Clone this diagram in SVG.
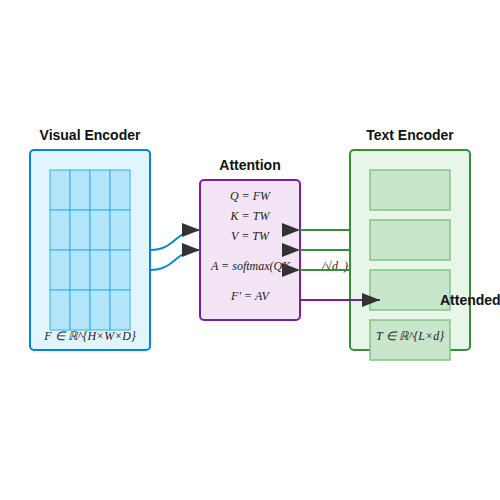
<svg xmlns="http://www.w3.org/2000/svg" width="500" height="500" viewBox="0 0 500 500">
<style>
.title{font-family:"Liberation Sans",Arial,sans-serif;font-weight:bold;font-size:14px;fill:#111;text-anchor:middle}
.math{font-family:"Liberation Serif","Times New Roman",serif;font-style:italic;font-size:12px;fill:#222;text-anchor:middle}
.cell{fill:#b3e5fc;stroke:#29b6f6;stroke-width:1}
.tok{fill:#c8e6c9;stroke:#81c784;stroke-width:1.5}
.conn{fill:none;stroke-width:2}
</style>
<defs>
<marker id="ah" markerUnits="userSpaceOnUse" markerWidth="18" markerHeight="14" viewBox="0 0 18 14" refX="18" refY="7" orient="auto">
<path d="M0,0 L18,7 L0,14 z" fill="#333"/>
</marker>
</defs>
<rect width="500" height="500" fill="#fff"/>
<g id="visual-encoder">
<text class="title" x="90" y="140">Visual Encoder</text>
<rect x="30" y="150" width="120" height="200" rx="4" fill="#e1f5fe" stroke="#0288d1" stroke-width="2"/>
<g>
<rect class="cell" x="50" y="170" width="20" height="40"/><rect class="cell" x="70" y="170" width="20" height="40"/><rect class="cell" x="90" y="170" width="20" height="40"/><rect class="cell" x="110" y="170" width="20" height="40"/>
<rect class="cell" x="50" y="210" width="20" height="40"/><rect class="cell" x="70" y="210" width="20" height="40"/><rect class="cell" x="90" y="210" width="20" height="40"/><rect class="cell" x="110" y="210" width="20" height="40"/>
<rect class="cell" x="50" y="250" width="20" height="40"/><rect class="cell" x="70" y="250" width="20" height="40"/><rect class="cell" x="90" y="250" width="20" height="40"/><rect class="cell" x="110" y="250" width="20" height="40"/>
<rect class="cell" x="50" y="290" width="20" height="40"/><rect class="cell" x="70" y="290" width="20" height="40"/><rect class="cell" x="90" y="290" width="20" height="40"/><rect class="cell" x="110" y="290" width="20" height="40"/>
</g>
<text class="math" x="90" y="340">F ∈ ℝ^{H×W×D}</text>
</g>
<g id="attention">
<text class="title" x="250" y="170">Attention</text>
<rect x="200" y="180" width="100" height="140" rx="4" fill="#f3e5f5" stroke="#7b1fa2" stroke-width="2"/>
<text class="math" x="250" y="200">Q = FW</text>
<text class="math" x="250" y="220">K = TW</text>
<text class="math" x="250" y="240">V = TW</text>
<text class="math" x="211" y="270" style="text-anchor:start">A = softmax(QK</text>
<text class="math" x="322" y="270" style="text-anchor:start">/√d</text>
<text class="math" x="344" y="270" style="text-anchor:start">)</text>
<text class="math" x="250" y="300">F′ = AV</text>
</g>
<g id="text-encoder">
<text class="title" x="410" y="140">Text Encoder</text>
<rect x="350" y="150" width="120" height="200" rx="4" fill="#e8f5e9" stroke="#388e3c" stroke-width="2"/>
<rect class="tok" x="370" y="170" width="80" height="40"/>
<rect class="tok" x="370" y="220" width="80" height="40"/>
<rect class="tok" x="370" y="270" width="80" height="40"/>
<rect class="tok" x="370" y="320" width="80" height="40"/>
<text class="math" x="410" y="340">T ∈ ℝ^{L×d}</text>
</g>
<g id="connectors">
<path class="conn" stroke="#0288d1" d="M150,250 C176,250 174,230 200,230" marker-end="url(#ah)"/>
<path class="conn" stroke="#0288d1" d="M150,270 C176,270 174,250 200,250" marker-end="url(#ah)"/>
<path class="conn" stroke="#388e3c" d="M300,230 L350,230" marker-start="url(#ah)"/>
<path class="conn" stroke="#388e3c" d="M300,250 L350,250" marker-start="url(#ah)"/>
<path class="conn" stroke="#388e3c" d="M300,270 L350,270" marker-start="url(#ah)"/>
<path class="conn" stroke="#7b1fa2" d="M300,300 L380,300" marker-end="url(#ah)"/>
</g>
<text class="title" x="440" y="305" style="text-anchor:start">Attended</text>
</svg>
